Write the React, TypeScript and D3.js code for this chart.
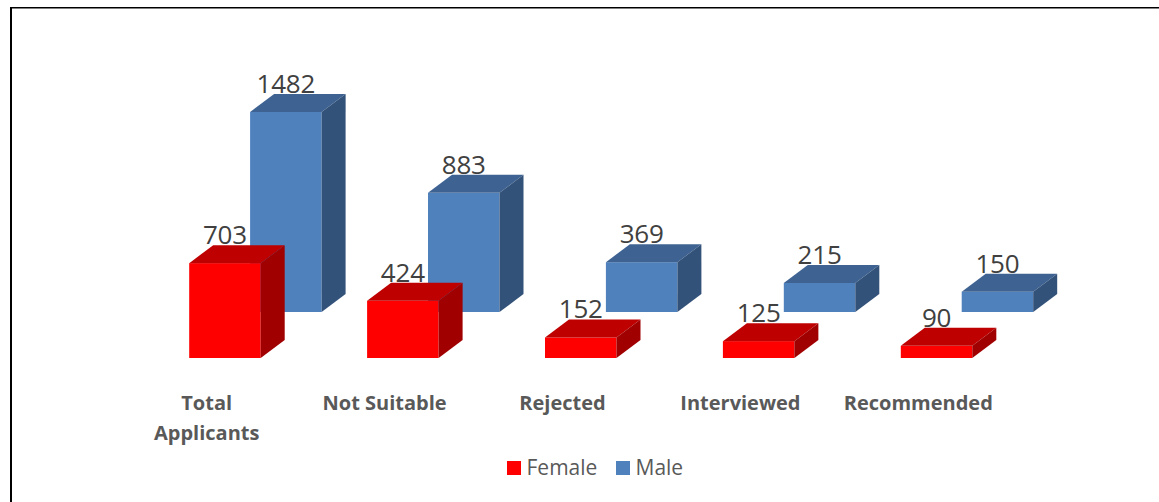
import React from 'react'
import * as d3 from 'd3'

const categories = ['Total Applicants', 'Not Suitable', 'Rejected', 'Interviewed', 'Recommended']
const femaleValues = [703, 424, 152, 125, 90]
const maleValues = [1482, 883, 369, 215, 150]
const legendItems = ['Female', 'Male']

const width = 1159
const height = 502
const depthX = 24
const depthY = 18
const barW = 71.5

const x = d3.scaleBand().domain(categories).range([145.2, 1034.7]).paddingInner(0).align(0)
const y = d3.scaleLinear().domain([0, 1482]).range([0, 200])

const colors = {
  Female: { front: '#ff0000', top: '#bf0000', side: '#a00000' },
  Male: { front: '#4f81bd', top: '#3e6392', side: '#33527a' },
}

const FONT = '"Open Sans", "Noto Sans", sans-serif'

function Bar({ left, base, h, c, label }: { left: number; base: number; h: number; c: any; label: number }) {
  const top = base - h
  const line = d3.line()
  const topFace = line([[left, top], [left + depthX, top - depthY], [left + barW + depthX, top - depthY], [left + barW, top]]) + 'Z'
  const sideFace = line([[left + barW, top], [left + barW + depthX, top - depthY], [left + barW + depthX, base - depthY], [left + barW, base]]) + 'Z'
  return (
    <g>
      <rect x={left} y={top} width={barW} height={h} fill={c.front} />
      <path d={topFace} fill={c.top} />
      <path d={sideFace} fill={c.side} />
      <text x={left + barW / 2} y={top - depthY - 1} textAnchor="middle" fontSize={26} fill="#404040" fontFamily={FONT} letterSpacing={-0.2}>{label}</text>
    </g>
  )
}

export default function App() {
  return (
    <svg width={width} height={height} style={{ position: 'absolute', left: 0, top: 0, background: '#fff' }}>
      <line x1={11} x2={11} y1={7} y2={502} stroke="#000" strokeWidth={2} />
      <line x1={10} x2={1159} y1={7.75} y2={7.75} stroke="#000" strokeWidth={1.5} />
      {categories.map((cat, i) => (
        <Bar key={cat + 'm'} left={x(cat)! + 104.9} base={312} h={y(maleValues[i])} c={colors.Male} label={maleValues[i]} />
      ))}
      {categories.map((cat, i) => (
        <Bar key={cat + 'f'} left={x(cat)! + 44} base={358} h={y(femaleValues[i])} c={colors.Female} label={femaleValues[i]} />
      ))}
      {categories.map((cat, i) => {
        const words = i === 0 ? cat.split(' ') : [cat]
        return (
          <text key={cat} textAnchor="middle" fontSize={20} fontWeight={700} fill="#595959" fontFamily={FONT}>
            {words.map((w, j) => (
              <tspan key={w} x={x(cat)! + 61.5} y={410 + j * 30}>{w}</tspan>
            ))}
          </text>
        )
      })}
      {legendItems.map((name, i) => {
        const lx = i === 0 ? 507 : 616
        return (
          <g key={name}>
            <rect x={lx} y={461} width={14} height={14} fill={colors[name as 'Female' | 'Male'].front} />
            <text x={lx + 19.5} y={475} fontSize={21} fill="#595959" fontFamily={FONT}>{name}</text>
          </g>
        )
      })}
    </svg>
  )
}
